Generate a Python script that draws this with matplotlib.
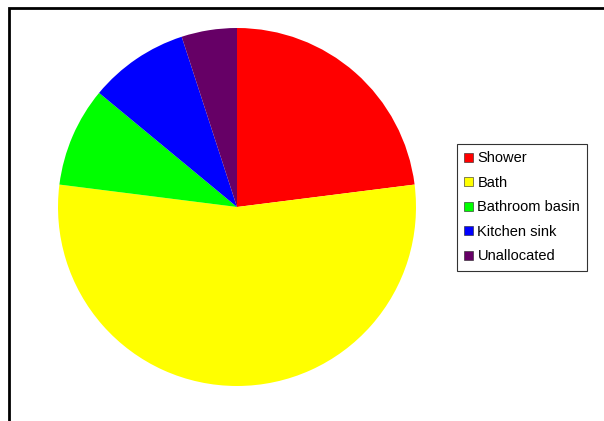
import matplotlib
matplotlib.use('Agg')
import matplotlib.pyplot as plt
from matplotlib.patches import Rectangle

labels = ['Shower', 'Bath', 'Bathroom basin', 'Kitchen sink', 'Unallocated']
shares = [23, 54, 9, 9, 5]
colours = ['#ff0000', '#ffff00', '#00ff00', '#0000ff', '#660066']

W, H = 604, 421
fig = plt.figure(figsize=(W / 100, H / 100), dpi=100)
plt.rcParams['font.family'] = ['Liberation Sans', 'DejaVu Sans']

# outer frame, runs off the right and bottom edges
fig.patches.append(Rectangle((8.5 / W, -0.1), 1.2, 1 - 8.5 / H + 0.1,
                             transform=fig.transFigure, fill=False,
                             edgecolor='black', linewidth=2))

cx, cy, r = 237, 207, 179
ax = fig.add_axes([(cx - r) / W, (H - cy - r) / H, 2 * r / W, 2 * r / H])
wedges, _ = ax.pie(shares, colors=colours, startangle=90, counterclock=False,
                   radius=1, wedgeprops=dict(edgecolor='none'))
ax.set_xlim(-1, 1)
ax.set_ylim(-1, 1)
ax.set_aspect('equal')
ax.axis('off')

leg = fig.legend(wedges, labels, loc='upper left',
                 bbox_to_anchor=(457 / W, 1 - 144 / H),
                 frameon=True, fancybox=False, edgecolor='black',
                 fontsize=10.5, handlelength=0.6, handleheight=0.6,
                 handletextpad=0.3, labelspacing=0.72, borderpad=0.5,
                 borderaxespad=0)
leg.get_frame().set_linewidth(0.8)
for h in leg.legend_handles:
    h.set_edgecolor('#222222')
    h.set_linewidth(0.4)

fig.savefig('out.png', dpi=100)
